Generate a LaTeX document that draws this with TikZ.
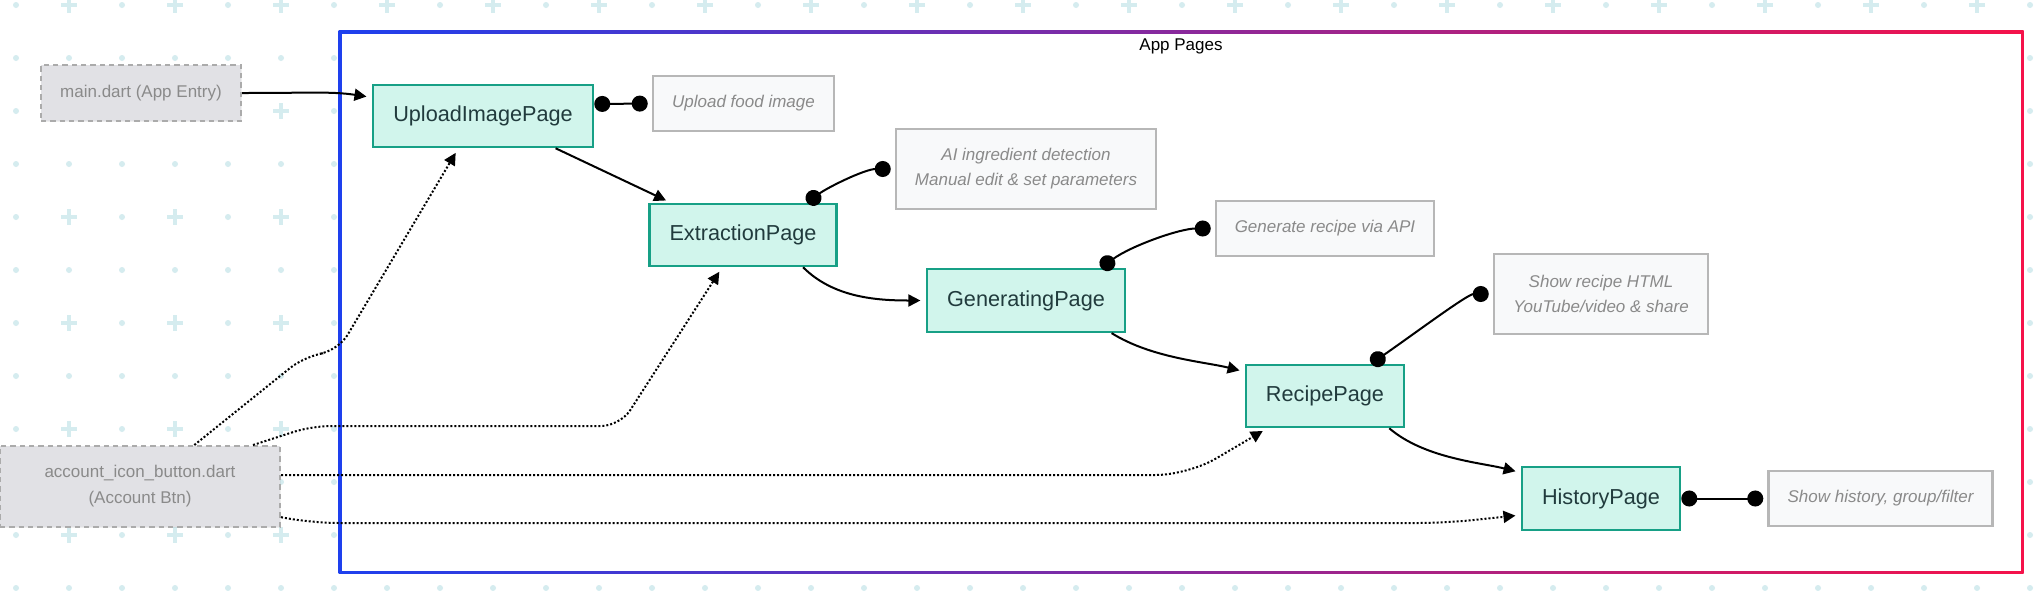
\documentclass[tikz,border=0pt]{standalone}
\usepackage{fontspec}
\setmainfont{Liberation Sans}
\usetikzlibrary{positioning, arrows.meta, shadows}

\definecolor{gridcol}{HTML}{D5ECEF}
\definecolor{pagefill}{HTML}{D1F5EC}
\definecolor{pageline}{HTML}{17A086}
\definecolor{pagetext}{HTML}{213B3D}
\definecolor{notefill}{HTML}{F8F9FA}
\definecolor{noteline}{HTML}{B7B7B7}
\definecolor{notetext}{HTML}{8A8A8A}
\definecolor{srcfill}{HTML}{E1E1E5}
\definecolor{srcline}{HTML}{ABABAB}
\definecolor{frameblue}{HTML}{1E40EE}
\definecolor{framered}{HTML}{F5124A}

\begin{document}
\begin{tikzpicture}[x=0.75pt, y=-0.75pt,
      page/.style = {rectangle, draw=pageline, fill=pagefill, line width=1.9pt,
                     text=pagetext, font=\fontsize{16.25}{19}\selectfont,
                     minimum height=46.5pt, inner sep=0pt,
                     drop shadow={opacity=0.12, shadow xshift=1pt, shadow yshift=-1pt}},
      note/.style = {rectangle, draw=noteline, fill=notefill, line width=1.9pt,
                     text=notetext, font=\fontsize{12.75}{18.75}\selectfont\itshape,
                     align=center, inner sep=0pt,
                     drop shadow={opacity=0.12, shadow xshift=1pt, shadow yshift=-1pt}},
       src/.style = {rectangle, draw=srcline, fill=srcfill, line width=1.5pt,
                     dash pattern=on 4pt off 3pt, text=notetext,
                     font=\fontsize{12.75}{19.5}\selectfont, align=center, inner sep=0pt,
                     drop shadow={opacity=0.12, shadow xshift=1pt, shadow yshift=-1pt}},
      flow/.style = {-{Triangle[length=9pt,width=9pt]}, line width=1.5pt, shorten >=4pt},
      link/.style = {flow, dash pattern=on 1.5pt off 1.5pt, rounded corners=14pt},
       pin/.style = {{Circle[length=12pt]}-{Circle[length=12pt]}, line width=1.5pt,
                     shorten >=3pt}
                        ]
\useasboundingbox (0,0) rectangle (2043,590);
\fill[white] (0,0) rectangle (2043,590);
% dotted background
\foreach \i in {0,...,38}
  \foreach \j in {0,...,11}{
    \pgfmathtruncatemacro\kind{isodd(\i)*iseven(\j)}
    \ifnum\kind=1
      \fill[gridcol] ({16+53*\i-8},{5+53*\j-2}) rectangle ++(16,4);
      \fill[gridcol] ({16+53*\i-2},{5+53*\j-8}) rectangle ++(4,16);
    \else
      \fill[gridcol] ({16+53*\i},{5+53*\j}) circle[radius=3];
    \fi
  }
% App Pages frame
\shade[left color=frameblue, right color=framered] (338.5,30.5) rectangle (2023.5,573.5);
\fill[white] (341.5,33.5) rectangle (2020.5,570.5);
\node (title) at (1181,46) [font=\fontsize{12.75}{15}\selectfont] {App Pages};

\node (main) at (141,93) [src, minimum width=150pt, minimum height=42pt] {main.dart (App Entry)};
\node (acc) at (140,486.5) [src, minimum width=210pt, minimum height=60.75pt]
      {account\_icon\_button.dart\\(Account Btn)};

\node (up) at (483,116) [page, minimum width=165pt] {UploadImagePage};
\node (ex) at (743,235) [page, minimum width=140.25pt] {ExtractionPage};
\node (gen) at (1026,300.5) [page, minimum width=148.5pt, minimum height=47pt] {GeneratingPage};
\node (rec) at (1325,396) [page, minimum width=118.5pt] {RecipePage};
\node (hi) at (1601,498.5) [page, minimum width=118.5pt, minimum height=47pt] {HistoryPage};

\node (nUp) at (743.5,103.5) [note, minimum width=135.75pt, minimum height=41.25pt] {Upload food image};
\node (nAI) at (1026,169) [note, minimum width=195pt, minimum height=60pt]
      {AI ingredient detection\\Manual edit \& set parameters};
\node (nGen) at (1325,228.5) [note, minimum width=163.5pt, minimum height=41.25pt] {Generate recipe via API};
\node (nRec) at (1601,294) [note, minimum width=160.5pt, minimum height=60pt]
      {Show recipe HTML\\YouTube/video \& share};
\node (nHi) [note, right=64.5pt of hi, minimum width=168pt, minimum height=41.25pt] {Show history, group/filter};

% page flow
\draw[flow] (main.east) .. controls +(70,0) and +(-40,-6) .. ([yshift=14pt]up.west);
\draw[flow] ([xshift=-29pt]up.south east) -- ([xshift=17pt]ex.north west);
\draw[flow] ([xshift=-26pt]ex.south east) .. controls +(30,30) and +(-50,0) .. (gen.west);
\draw[flow] ([xshift=-11pt]gen.south east) .. controls +(40,25) and +(-40,-10) .. ([yshift=-6pt]rec.north west);
\draw[flow] ([xshift=-12pt]rec.south east) .. controls +(35,30) and +(-40,-10) .. ([yshift=-5pt]hi.north west);

% account button links
\draw[link] ([xshift=-65pt]acc.north east) -- (305,356) -- (338,351) -- ([xshift=65pt]up.south west);
\draw[link] ([xshift=-21pt]acc.north east) -- (312,426) -- (620,426) -- ([xshift=55.5pt]ex.south west);
\draw[link, rounded corners=24pt] ([yshift=8.6pt]acc.east) -- (1188,475) -- ([xshift=17pt]rec.south west);
\draw[link, rounded corners=20pt] ([yshift=-23pt]acc.east) -- (312,523) -- (1445,523) -- ([yshift=-12.4pt]hi.west);

% notes
\draw[pin] ([yshift=9pt]up.east) -- (nUp.west);
\draw[pin] ([xshift=-23pt]ex.north east) .. controls +(20,-15) and +(-30,0) .. (nAI.west);
\draw[pin] ([xshift=-19pt]gen.north east) .. controls +(30,-22) and +(-35,0) .. (nGen.west);
\draw[pin] ([xshift=-25.5pt]rec.north east) .. controls +(50,-35) and +(-25,0) .. (nRec.west);
\draw[pin] (hi.east) -- (nHi.west);
\end{tikzpicture}
\end{document}
